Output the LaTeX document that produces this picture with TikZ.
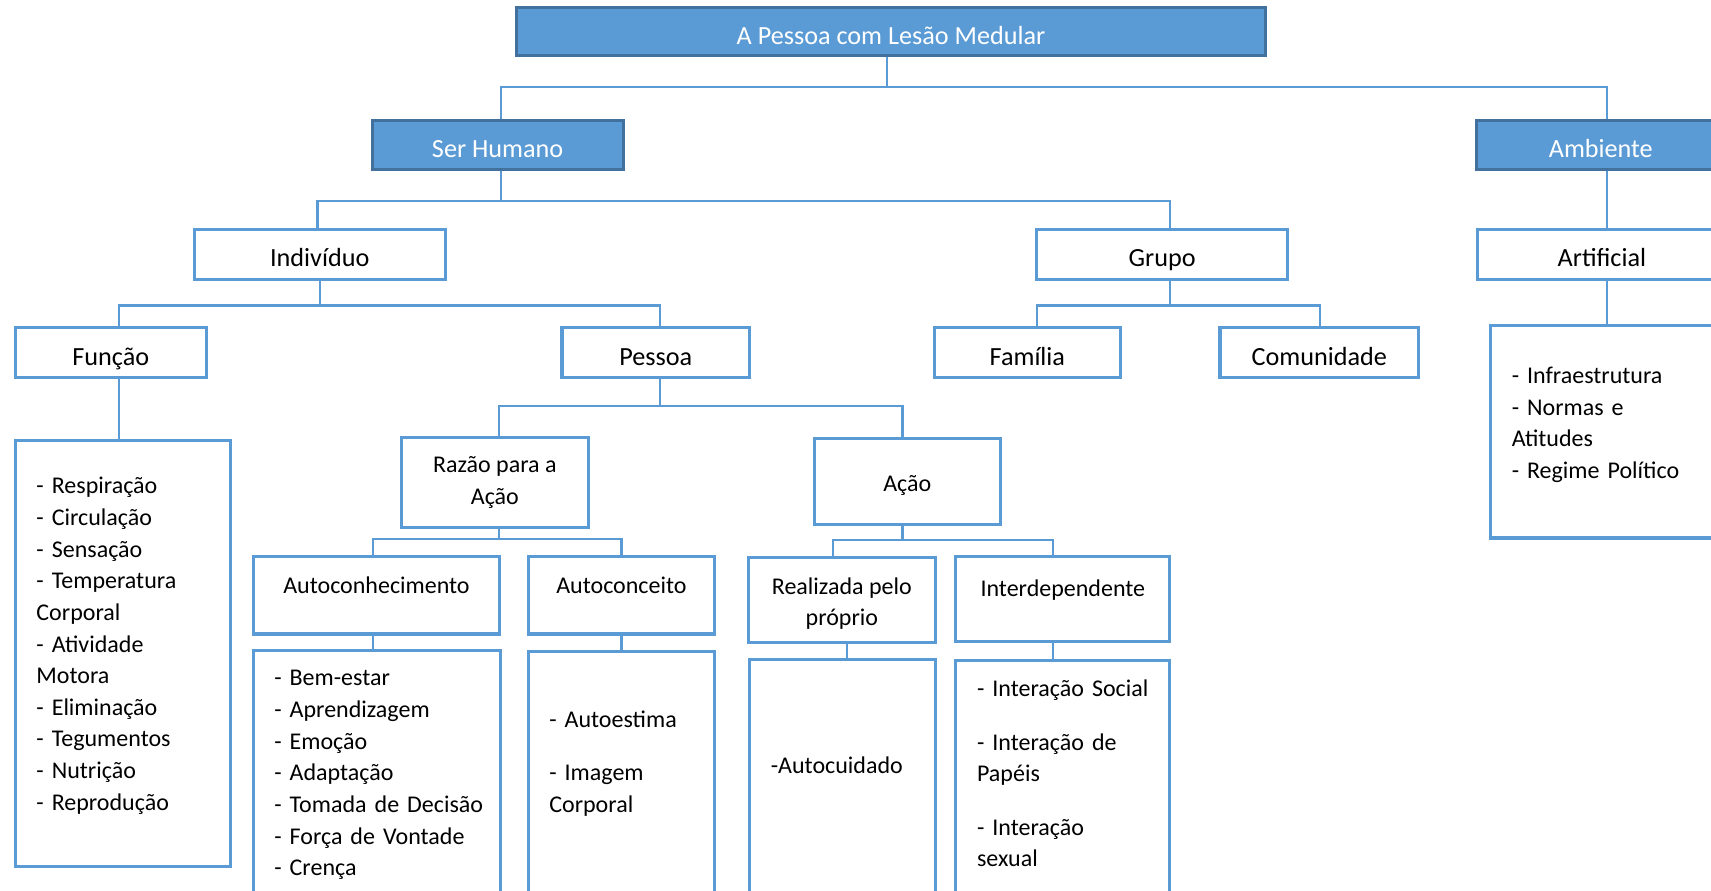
\documentclass[tikz,border=0pt]{standalone}
\usepackage{fontspec}
\setmainfont{Carlito}
\usetikzlibrary{calc}
\definecolor{accent}{RGB}{91,155,213}
\definecolor{accentdark}{RGB}{65,113,156}
\tikzset{
  conn/.style={draw=accent, line width=1pt},
  hdr/.style={rectangle, fill=accent, draw=accentdark, line width=1.4pt, text=white,
    font=\fontsize{12}{14.5}\selectfont, inner sep=0pt, text height=12pt, text depth=0.5pt},
  lvl/.style={rectangle, draw=accent, line width=1.4pt, fill=white,
    font=\fontsize{12}{14.5}\selectfont, inner sep=0pt, text height=12pt, text depth=0.5pt},
  sub/.style={rectangle, draw=accent, line width=1.4pt, fill=white,
    font=\fontsize{11}{14.5}\selectfont, inner sep=0pt, align=center},
  frame/.style={rectangle, draw=accent, line width=1.4pt, fill=white, inner sep=0pt},
  txt/.style={font=\fontsize{11}{14.5}\selectfont, inner sep=0pt},
  lst/.style={txt, text width=130pt, align=left, anchor=base west}
}
% box from corner (x1,y1) to (x2,y2), in units of the picture grid
\newcommand\placebox[7]{%
  \node[#1, minimum width={(#5-#3)*0.5pt}, minimum height={(#6-#4)*0.5pt}]
    (#2) at ({(#3+#5)/2},{(#4+#6)/2}) {#7};}
\begin{document}
\begin{tikzpicture}[x=0.5pt,y=-0.5pt]
\useasboundingbox (0,0) rectangle (1568,816);
\clip (0,0) rectangle (1568,816);

% bus levels
\coordinate (busA) at (0,80);
\coordinate (busB) at (0,184);
\coordinate (busC) at (0,280);
\coordinate (busD) at (0,372);
\coordinate (busE) at (0,494);
\coordinate (busF) at (0,495);

% boxes
\placebox{hdr}{top}{473}{7}{1160}{51}{A Pessoa com Lesão Medular}
\placebox{hdr}{serh}{341}{110}{571}{155}{Ser Humano}
\placebox{hdr}{amb}{1353}{110}{1581}{155}{Ambiente}
\placebox{lvl}{indiv}{178}{210}{408}{256}{Indivíduo}
\placebox{lvl}{grupo}{950}{210}{1180}{256}{Grupo}
\placebox{lvl}{artif}{1354}{210}{1582}{256}{Artificial}
\placebox{lvl}{funcao}{14}{300}{189}{346}{Função}
\placebox{lvl}{pessoa}{515}{300}{687}{346}{Pessoa}
\placebox{lvl}{familia}{856}{300}{1027}{346}{Família}
\placebox{lvl}{comun}{1118}{300}{1300}{346}{Comunidade}
\placebox{frame}{artlist}{1366}{298}{1580}{493}{}
\placebox{frame}{funlist}{14}{404}{211}{794}{}
\placebox{sub}{razao}{368}{401}{539}{483}{Razão para a\\Ação}
\placebox{sub, text height=10pt, text depth=0.8pt}{acao}{746}{402}{917}{481}{Ação}
\placebox{frame}{autocon}{232}{510}{458}{581}{}
\placebox{frame}{autoconc}{484}{510}{655}{581}{}
\placebox{frame}{realiz}{686}{511}{857}{589}{}
\placebox{frame}{interd}{876}{510}{1072}{588}{}
\placebox{frame}{autoconlist}{232}{596}{459}{880}{}
\placebox{frame}{autoconclist}{484}{597}{655}{880}{}
\placebox{frame}{realizlist}{687}{604}{857}{880}{}
\placebox{frame}{interdlist}{876}{605}{1072}{880}{}

% titles set near the top of their boxes
\node[txt] (autocon-t) at (345,536) {Autoconhecimento};
\node[txt] (autoconc-t) at (569.5,536) {Autoconceito};
\node[txt, align=center] (realiz-t) at (771.5,553) {Realizada pelo\\próprio};
\node[txt] (interd-t) at (974,541) {Interdependente};

% item lists
\node[lst] (artlist-t) at (1385,351.5) {- Infraestrutura\\- Normas e\\Atitudes\\- Regime Político};
\node[lst] (funlist-t) at (33,452.5) {- Respiração\\- Circulação\\- Sensação\\- Temperatura\\Corporal\\- Atividade\\Motora\\- Eliminação\\- Tegumentos\\- Nutrição\\- Reprodução};
\node[lst] (autoconlist-t) at (251,628.5) {- Bem-estar\\- Aprendizagem\\- Emoção\\- Adaptação\\- Tomada de Decisão\\- Força de Vontade\\- Crença};
\node[lst] (autoconclist-t) at (503,666.5) {- Autoestima\\[10pt]- Imagem\\Corporal};
\node[lst] (realizlist-t) at (706,708.5) {-Autocuidado};
\node[lst] (interdlist-t) at (895,638.5) {- Interação Social\\[10pt]- Interação de\\Papéis\\[10pt]- Interação\\sexual};

% connectors
\draw[conn] ([xshift=-1.75pt]top.south) -- ([xshift=-1.75pt]top.south |- busA);
\draw[conn] ([xshift=1.5pt]serh.north) -- ([xshift=1.5pt]serh.north |- busA)
  -- ([xshift=3pt]amb.north |- busA) -- ([xshift=3pt]amb.north);

\draw[conn] ([xshift=1.5pt]serh.south) -- ([xshift=1.5pt]serh.south |- busB);
\draw[conn] ([xshift=-1pt]indiv.north) -- ([xshift=-1pt]indiv.north |- busB)
  -- ([xshift=3.5pt]grupo.north |- busB) -- ([xshift=3.5pt]grupo.north);

\draw[conn] ([xshift=3pt]amb.south) -- ([xshift=3pt]amb.south |- artif.north);
\draw[conn] ([xshift=2.5pt]artif.south) -- ([xshift=2.5pt]artif.south |- artlist.north);

\draw[conn] (indiv.south) -- (indiv.south |- busC);
\draw[conn] ([xshift=3.75pt]funcao.north) -- ([xshift=3.75pt]funcao.north |- busC)
  -- ([xshift=2pt]pessoa.north |- busC) -- ([xshift=2pt]pessoa.north);

\draw[conn] ([xshift=3.5pt]grupo.south) -- ([xshift=3.5pt]grupo.south |- busC);
\draw[conn] ([xshift=4.25pt]familia.north) -- ([xshift=4.25pt]familia.north |- busC)
  -- ([xshift=0.5pt]comun.north |- busC) -- ([xshift=0.5pt]comun.north);

\draw[conn] ([xshift=3.75pt]funcao.south) -- ([xshift=3.75pt]funcao.south |- funlist.north);

\draw[conn] ([xshift=2pt]pessoa.south) -- ([xshift=2pt]pessoa.south |- busD);
\draw[conn] ([xshift=1.75pt]razao.north) -- ([xshift=1.75pt]razao.north |- busD)
  -- ([xshift=-2.25pt]acao.north |- busD) -- ([xshift=-2.25pt]acao.north);

\draw[conn] ([xshift=1.75pt]razao.south) -- ([xshift=1.75pt]razao.south |- busE);
\draw[conn] ([xshift=-1.5pt]autocon.north) -- ([xshift=-1.5pt]autocon.north |- busE)
  -- (autoconc.north |- busE) -- (autoconc.north);

\draw[conn] ([xshift=-2.25pt]acao.south) -- ([xshift=-2.25pt]acao.south |- busF);
\draw[conn] ([xshift=-4.25pt]realiz.north) -- ([xshift=-4.25pt]realiz.north |- busF)
  -- ([xshift=-4.5pt]interd.north |- busF) -- ([xshift=-4.5pt]interd.north);

\draw[conn] ([xshift=-1.5pt]autocon.south) -- ([xshift=-1.5pt]autocon.south |- autoconlist.north);
\draw[conn] (autoconc.south) -- (autoconc.south |- autoconclist.north);
\draw[conn] ([xshift=2.25pt]realiz.south) -- ([xshift=2.25pt]realiz.south |- realizlist.north);
\draw[conn] ([xshift=-4.5pt]interd.south) -- ([xshift=-4.5pt]interd.south |- interdlist.north);
\end{tikzpicture}
\end{document}
